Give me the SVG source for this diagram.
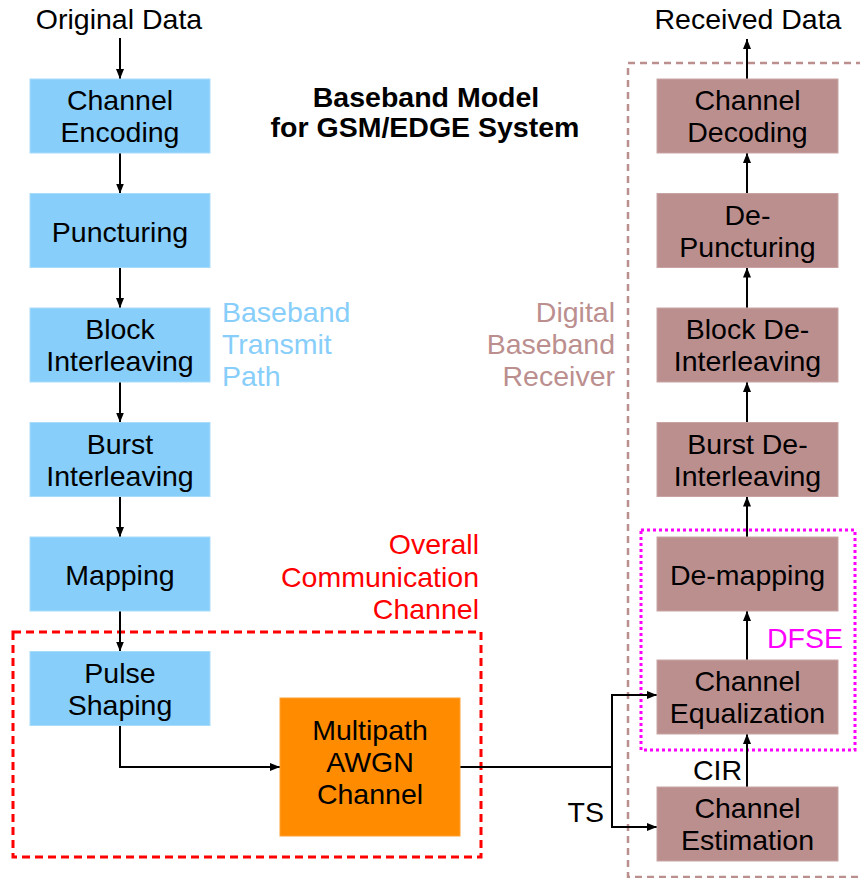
<svg xmlns="http://www.w3.org/2000/svg" width="860" height="878" viewBox="0 0 860 878">
<defs>
<marker id="ah" markerWidth="10" markerHeight="8" refX="10" refY="4" orient="auto" markerUnits="userSpaceOnUse">
<path d="M0,0 L10,4 L0,8 Z" fill="#000"/>
</marker>
<style>
text{font-family:"Liberation Sans",Arial,Helvetica,sans-serif;font-size:28.5px;fill:#000;}
.c{text-anchor:middle;}
.r{text-anchor:end;}
.tx{fill:#87CEFA;stroke:#a8dcfb;stroke-width:1;}
.rx{fill:#BC8F8F;stroke:#c9a3a3;stroke-width:1;}
.or{fill:#FF8C00;stroke:#ffa033;stroke-width:1;}
.ln{fill:none;stroke:#000;stroke-width:2;}
.ar{fill:none;stroke:#000;stroke-width:2;marker-end:url(#ah);}
.title{font-weight:bold;}
</style>
</defs>
<rect width="860" height="878" fill="#fff"/>

<g id="title">
<text class="c title" x="426" y="107">Baseband Model</text>
<text class="c title" x="425" y="137">for GSM/EDGE System</text>
</g>

<g id="group-labels">
<rect x="13" y="632" width="468" height="225" fill="none" stroke="#FF0000" stroke-width="3" stroke-dasharray="8 5"/>
<rect x="628" y="63" width="260" height="814" fill="none" stroke="#BC8F8F" stroke-width="2.5" stroke-dasharray="7 5"/>
<rect x="641" y="530" width="214" height="220" fill="none" stroke="#FF00FF" stroke-width="3" stroke-dasharray="3 3"/>
<text x="222" y="322" style="fill:#87CEFA">Baseband</text>
<text x="222" y="354" style="fill:#87CEFA">Transmit</text>
<text x="222" y="386" style="fill:#87CEFA">Path</text>
<text class="r" x="615" y="322" style="fill:#BC8F8F">Digital</text>
<text class="r" x="615" y="354" style="fill:#BC8F8F">Baseband</text>
<text class="r" x="615" y="386" style="fill:#BC8F8F">Receiver</text>
<text class="r" x="479" y="554" style="fill:#FF0000">Overall</text>
<text class="r" x="479" y="587" style="fill:#FF0000">Communication</text>
<text class="r" x="479" y="619" style="fill:#FF0000">Channel</text>
<text class="r" x="843" y="648" style="fill:#FF00FF">DFSE</text>
</g>

<g id="io-labels">
<text class="c" x="119" y="29">Original Data</text>
<text class="c" x="748" y="29">Received Data</text>
</g>

<g id="connectors">
<line class="ar" x1="120" y1="38" x2="120" y2="79"/>
<line class="ar" x1="120" y1="153" x2="120" y2="193.5"/>
<line class="ar" x1="120" y1="267.5" x2="120" y2="308"/>
<line class="ar" x1="120" y1="382" x2="120" y2="422.5"/>
<line class="ar" x1="120" y1="496.5" x2="120" y2="537"/>
<line class="ar" x1="120" y1="611" x2="120" y2="651.5"/>
<polyline class="ar" points="120,725.5 120,767 280,767"/>
<polyline class="ln" points="460,767 612,767"/>
<polyline class="ar" points="612,767 612,695 657,695"/>
<polyline class="ar" points="612,767 612,827 657,827"/>
<line class="ar" x1="747" y1="787" x2="747" y2="734"/>
<line class="ar" x1="747" y1="660" x2="747" y2="611"/>
<line class="ar" x1="747" y1="537" x2="747" y2="496.5"/>
<line class="ar" x1="747" y1="422.5" x2="747" y2="382"/>
<line class="ar" x1="747" y1="308" x2="747" y2="267.5"/>
<line class="ar" x1="747" y1="193.5" x2="747" y2="153"/>
<line class="ar" x1="747" y1="79" x2="747" y2="39"/>
<text class="r" x="742" y="780">CIR</text>
<text class="r" x="604" y="822">TS</text>
</g>

<g id="channel-encoding">
<rect class="tx" x="30" y="79" width="180" height="74"/>
<text class="c" x="120" y="110">Channel</text>
<text class="c" x="120" y="142">Encoding</text>
</g>
<g id="puncturing">
<rect class="tx" x="30" y="193.5" width="180" height="74"/>
<text class="c" x="120" y="242">Puncturing</text>
</g>
<g id="block-interleaving">
<rect class="tx" x="30" y="308" width="180" height="74"/>
<text class="c" x="120" y="339">Block</text>
<text class="c" x="120" y="371">Interleaving</text>
</g>
<g id="burst-interleaving">
<rect class="tx" x="30" y="422.5" width="180" height="74"/>
<text class="c" x="120" y="453.5">Burst</text>
<text class="c" x="120" y="485.5">Interleaving</text>
</g>
<g id="mapping">
<rect class="tx" x="30" y="537" width="180" height="74"/>
<text class="c" x="120" y="585">Mapping</text>
</g>
<g id="pulse-shaping">
<rect class="tx" x="30" y="651.5" width="180" height="74"/>
<text class="c" x="120" y="682.5">Pulse</text>
<text class="c" x="120" y="714.5">Shaping</text>
</g>
<g id="multipath-awgn">
<rect class="or" x="280" y="698" width="180" height="138"/>
<text class="c" x="370" y="740">Multipath</text>
<text class="c" x="370" y="772">AWGN</text>
<text class="c" x="370" y="804">Channel</text>
</g>

<g id="channel-decoding">
<rect class="rx" x="657" y="79" width="181" height="74"/>
<text class="c" x="747.5" y="110">Channel</text>
<text class="c" x="747.5" y="142">Decoding</text>
</g>
<g id="de-puncturing">
<rect class="rx" x="657" y="193.5" width="181" height="74"/>
<text class="c" x="747.5" y="224.5">De-</text>
<text class="c" x="747.5" y="256.5">Puncturing</text>
</g>
<g id="block-de-interleaving">
<rect class="rx" x="657" y="308" width="181" height="74"/>
<text class="c" x="747.5" y="339">Block De-</text>
<text class="c" x="747.5" y="371">Interleaving</text>
</g>
<g id="burst-de-interleaving">
<rect class="rx" x="657" y="422.5" width="181" height="74"/>
<text class="c" x="747.5" y="453.5">Burst De-</text>
<text class="c" x="747.5" y="485.5">Interleaving</text>
</g>
<g id="de-mapping">
<rect class="rx" x="657" y="537" width="181" height="74"/>
<text class="c" x="747.5" y="585">De-mapping</text>
</g>
<g id="channel-equalization">
<rect class="rx" x="657" y="660" width="181" height="74"/>
<text class="c" x="747.5" y="691">Channel</text>
<text class="c" x="747.5" y="723">Equalization</text>
</g>
<g id="channel-estimation">
<rect class="rx" x="657" y="787" width="181" height="74"/>
<text class="c" x="747.5" y="818">Channel</text>
<text class="c" x="747.5" y="850">Estimation</text>
</g>
</svg>
